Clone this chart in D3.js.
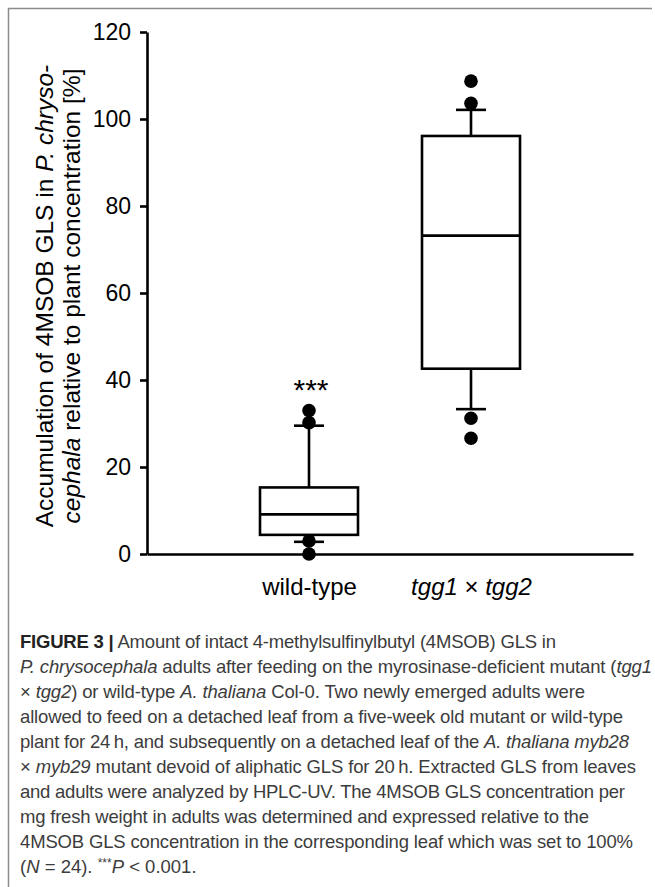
<!DOCTYPE html>
<html>
<head>
<meta charset="utf-8">
<script src="https://cdn.jsdelivr.net/npm/d3@7"></script>
<style>
  html, body { margin: 0; padding: 0; background: #fff; }
  svg { display: block; }
</style>
</head>
<body>
<svg id="chart" width="655" height="887"></svg>
<script>
// values (percent)
const categories = ["wild-type", "tgg1 × tgg2"];
const q1 = [4.4, 42.6];
const median = [9.1, 73.2];
const q3 = [15.3, 96.1];
const whiskerLow = [2.8, 33.3];
const whiskerHigh = [29.5, 102.1];
const outliers = [
  [33.0, 30.2, 3.0, 0.0],
  [108.7, 103.6, 31.2, 26.6]
];
const yTicks = [0, 20, 40, 60, 80, 100, 120];

// caption, one entry per line: [text, style]
const caption = [
  [["FIGURE 3 |", "b"], [" Amount of intact 4-methylsulfinylbutyl (4MSOB) GLS in", ""]],
  [["P. chrysocephala", "i"], [" adults after feeding on the myrosinase-deficient mutant (", ""], ["tgg1", "i"]],
  [["× ", ""], ["tgg2", "i"], [") or wild-type ", ""], ["A. thaliana", "i"], [" Col-0. Two newly emerged adults were", ""]],
  [["allowed to feed on a detached leaf from a five-week old mutant or wild-type", ""]],
  [["plant for 24\u2009h, and subsequently on a detached leaf of the ", ""], ["A. thaliana myb28", "i"]],
  [["× ", ""], ["myb29", "i"], [" mutant devoid of aliphatic GLS for 20\u2009h. Extracted GLS from leaves", ""]],
  [["and adults were analyzed by HPLC-UV. The 4MSOB GLS concentration per", ""]],
  [["mg fresh weight in adults was determined and expressed relative to the", ""]],
  [["4MSOB GLS concentration in the corresponding leaf which was set to 100%", ""]],
  [["(", ""], ["N", "i"], [" = 24). ", ""], ["***", "sup"], ["P", "i"], [" < 0.001.", ""]]
];
const captionEnds = [556, 652, 585, 623, 629, 636, 625, 589, 633, null];

const svg = d3.select("#chart");
const font = "'Liberation Sans', Arial, sans-serif";

// frame
svg.append("path")
  .attr("d", "M8.5,887 V8.5 H652")
  .attr("fill", "none")
  .attr("stroke", "#8c8c8c")
  .attr("stroke-width", 1.5);

const y = d3.scaleLinear().domain([0, 120]).range([554, 32]);
const x = d3.scalePoint().domain(categories).range([147, 633]).padding(1);
const boxW = 98, capW = 30;

// y axis
const yAxis = svg.append("g")
  .attr("transform", "translate(147,0)")
  .call(d3.axisLeft(y).tickValues(yTicks).tickSize(7).tickSizeOuter(0).tickPadding(9));
yAxis.select(".domain").attr("stroke-width", 2.6);
yAxis.selectAll(".tick line").attr("stroke-width", 2.6);
yAxis.selectAll(".tick text")
  .attr("font-family", font)
  .attr("font-size", 23)
  .attr("fill", "#000");

// x axis
const xAxis = svg.append("g")
  .attr("transform", "translate(0,554)")
  .call(d3.axisBottom(x).tickSize(0).tickSizeOuter(0).tickPadding(24));
xAxis.select(".domain").attr("stroke-width", 2.6);
xAxis.selectAll(".tick text")
  .attr("font-family", font)
  .attr("font-size", 24)
  .attr("fill", "#000")
  .each(function (d) {
    if (d.includes("×")) {
      const t = d3.select(this).text(null);
      const parts = d.split(" × ");
      t.append("tspan").attr("font-style", "italic").text(parts[0]);
      t.append("tspan").text(" × ");
      t.append("tspan").attr("font-style", "italic").text(parts[1]);
    }
  });

// boxes
const groups = svg.selectAll(".box")
  .data(categories)
  .join("g")
  .attr("class", "box")
  .attr("fill", "none")
  .attr("stroke", "#000")
  .attr("stroke-width", 2.6);

groups.append("line")
  .attr("x1", d => x(d)).attr("x2", d => x(d))
  .attr("y1", (d, i) => y(q3[i])).attr("y2", (d, i) => y(whiskerHigh[i]));
groups.append("line")
  .attr("x1", d => x(d)).attr("x2", d => x(d))
  .attr("y1", (d, i) => y(q1[i])).attr("y2", (d, i) => y(whiskerLow[i]));
groups.append("line")
  .attr("x1", d => x(d) - capW / 2).attr("x2", d => x(d) + capW / 2)
  .attr("y1", (d, i) => y(whiskerHigh[i])).attr("y2", (d, i) => y(whiskerHigh[i]));
groups.append("line")
  .attr("x1", d => x(d) - capW / 2).attr("x2", d => x(d) + capW / 2)
  .attr("y1", (d, i) => y(whiskerLow[i])).attr("y2", (d, i) => y(whiskerLow[i]));
groups.append("rect")
  .attr("x", d => x(d) - boxW / 2)
  .attr("width", boxW)
  .attr("y", (d, i) => y(q3[i]))
  .attr("height", (d, i) => y(q1[i]) - y(q3[i]))
  .attr("fill", "#fff");
groups.append("line")
  .attr("x1", d => x(d) - boxW / 2).attr("x2", d => x(d) + boxW / 2)
  .attr("y1", (d, i) => y(median[i])).attr("y2", (d, i) => y(median[i]));

// outlier dots
groups.each(function (d, i) {
  d3.select(this).selectAll("circle")
    .data(outliers[i])
    .join("circle")
    .attr("cx", x(d))
    .attr("cy", v => y(v))
    .attr("r", 6.8)
    .attr("fill", "#000")
    .attr("stroke", "none");
});

// significance
svg.append("text")
  .attr("x", x(categories[0]) + 2)
  .attr("y", 400)
  .attr("text-anchor", "middle")
  .attr("font-family", font)
  .attr("font-size", 30)
  .text("***");

// y axis title
const title = svg.append("text")
  .attr("transform", "translate(0,296) rotate(-90)")
  .attr("text-anchor", "middle")
  .attr("font-family", font)
  .attr("font-size", 24.5)
  .attr("fill", "#000");
const l1 = title.append("tspan").attr("x", 0).attr("y", 53);
l1.append("tspan").text("Accumulation of 4MSOB GLS in ");
l1.append("tspan").attr("font-style", "italic").text("P. chryso-");
const l2 = title.append("tspan").attr("x", 0).attr("y", 80);
l2.append("tspan").attr("font-style", "italic").text("cephala");
l2.append("tspan").text(" relative to plant concentration [%]");

// caption
const cap = svg.append("g")
  .attr("font-family", font)
  .attr("font-size", 18.5)
  .attr("fill", "#3c3c3c");
caption.forEach((line, k) => {
  const t = cap.append("text").attr("x", 20).attr("y", 648 + k * 25);
  if (captionEnds[k]) t.attr("textLength", captionEnds[k] - 20).attr("lengthAdjust", "spacing");
  line.forEach(([s, st]) => {
    const sp = t.append("tspan").text(s);
    if (st === "b") sp.attr("font-weight", "bold").attr("fill", "#222");
    if (st === "i") sp.attr("font-style", "italic");
    if (st === "sup") sp.attr("font-size", 12).attr("dy", -6);
    if (st === "i" && k === 9 && s === "P") sp.attr("dy", 6);
  });
});
</script>
</body>
</html>
